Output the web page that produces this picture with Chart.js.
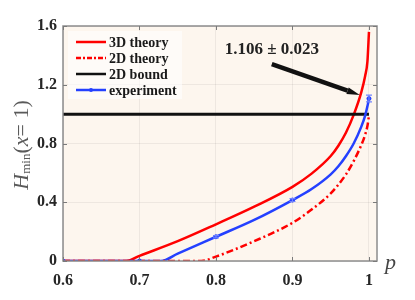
<!DOCTYPE html>
<html>
<head>
<meta charset="utf-8">
<script src="https://cdn.jsdelivr.net/npm/chart.js@4.4.0/dist/chart.umd.min.js"></script>
<style>
  html, body { margin: 0; padding: 0; background: #fff; }
  #wrap { width: 415px; height: 300px; }
</style>
</head>
<body>
<div id="wrap"><canvas id="hminChart"></canvas></div>
<script>
// curves
const p3D = [0.6, 0.683, 0.7, 0.75, 0.8, 0.85, 0.9, 0.925, 0.95, 0.96, 0.97, 0.98, 0.99, 0.995, 0.998, 1.0];
const h3D = [0, 0, 0.035, 0.135, 0.25, 0.37, 0.505, 0.595, 0.715, 0.785, 0.875, 0.995, 1.15, 1.26, 1.36, 1.56];

const p2D = [0.6, 0.781, 0.8, 0.85, 0.9, 0.925, 0.95, 0.96, 0.97, 0.98, 0.99, 0.995, 0.998, 1.0];
const h2D = [0, 0, 0.03, 0.135, 0.26, 0.35, 0.46, 0.52, 0.59, 0.68, 0.79, 0.86, 0.92, 0.99];

const pBound = [0.6, 1.0];
const hBound = [1, 1];

const pFit = [0.6, 0.728, 0.75, 0.8, 0.85, 0.9, 0.925, 0.95, 0.96, 0.97, 0.98, 0.99, 0.995, 1.0];
const hFit = [0, 0, 0.05, 0.165, 0.28, 0.415, 0.49, 0.59, 0.645, 0.715, 0.8, 0.915, 0.99, 1.1];

const pExp = [0.6, 0.7, 0.8, 0.9, 1.0];
const hExp = [0, 0, 0.165, 0.415, 1.106];
const errExp = [0, 0, 0.008, 0.01, 0.023];

const xTicks = [0.6, 0.7, 0.8, 0.9, 1];
const yTicks = [0, 0.4, 0.8, 1.2, 1.6];

const legendLabels = ['3D theory', '2D theory', '2D bound', 'experiment'];

// annotation (data space)
const annText = '1.106 \u00b1 0.023';
const annTextAt = [0.873, 1.436];
const arrowFrom = [0.873, 1.34];
const arrowTo = [0.988, 1.13];

const RED = '#ff0000';
const BLUE = '#2440ff';
const serif = "'Liberation Serif', 'Times New Roman', serif";

function pts(xs, ys) {
    return xs.map((x, i) => ({ x: x, y: ys[i] }));
}

const datasets = [
    {
        label: legendLabels[0],
        data: pts(p3D, h3D),
        borderColor: RED, borderWidth: 2.5, pointRadius: 0,
        cubicInterpolationMode: 'monotone', order: 4
    },
    {
        label: legendLabels[1],
        data: pts(p2D, h2D),
        borderColor: RED, borderWidth: 2.5, borderDash: [7, 3, 2, 3], pointRadius: 0,
        cubicInterpolationMode: 'monotone', order: 1
    },
    {
        label: legendLabels[2],
        data: pts(pBound, hBound),
        borderColor: '#111', borderWidth: 3, pointRadius: 0, order: 3
    },
    {
        label: legendLabels[3],
        data: pts(pFit, hFit),
        borderColor: BLUE, borderWidth: 2.5, pointRadius: 0,
        cubicInterpolationMode: 'monotone', order: 2
    },
    {
        label: 'exp points',
        data: pts(pExp, hExp),
        showLine: false,
        borderColor: BLUE, backgroundColor: BLUE,
        pointRadius: 2, pointStyle: 'circle', order: 0
    }
];

// background, frame, inward ticks, error bars, annotation, legend, axis titles
const decor = {
    id: 'decor',
    beforeDraw(chart) {
        const c = chart.ctx, a = chart.chartArea;
        c.save();
        c.fillStyle = '#fff';
        c.fillRect(0, 0, chart.width, chart.height);
        c.fillStyle = '#fdf6ee';
        c.fillRect(a.left, a.top, a.right - a.left, a.bottom - a.top);
        c.restore();
    },
    afterDatasetsDraw(chart) {
        const c = chart.ctx, a = chart.chartArea;
        const xs = chart.scales.x, ys = chart.scales.y;
        c.save();

        // error bars
        c.strokeStyle = '#6f82ff';
        c.lineWidth = 1.2;
        pExp.forEach((p, i) => {
            if (!errExp[i]) return;
            const x = xs.getPixelForValue(p);
            const y1 = ys.getPixelForValue(hExp[i] - errExp[i]);
            const y2 = ys.getPixelForValue(hExp[i] + errExp[i]);
            c.beginPath();
            c.moveTo(x, y1); c.lineTo(x, y2);
            c.moveTo(x - 3, y1); c.lineTo(x + 3, y1);
            c.moveTo(x - 3, y2); c.lineTo(x + 3, y2);
            c.stroke();
        });

        // frame
        c.strokeStyle = '#8c8c8c';
        c.lineWidth = 1.5;
        c.strokeRect(a.left, a.top, a.right - a.left, a.bottom - a.top);

        // inward tick marks
        c.lineWidth = 1;
        c.strokeStyle = '#7a7a7a';
        c.beginPath();
        xTicks.forEach(v => {
            const x = Math.round(xs.getPixelForValue(v)) + 0.5;
            c.moveTo(x, a.bottom); c.lineTo(x, a.bottom - 4);
            c.moveTo(x, a.top); c.lineTo(x, a.top + 4);
        });
        yTicks.forEach(v => {
            const y = Math.round(ys.getPixelForValue(v)) + 0.5;
            c.moveTo(a.left, y); c.lineTo(a.left + 4, y);
            c.moveTo(a.right, y); c.lineTo(a.right - 4, y);
        });
        c.stroke();

        // annotation arrow
        const fx = xs.getPixelForValue(arrowFrom[0]), fy = ys.getPixelForValue(arrowFrom[1]);
        const tx = xs.getPixelForValue(arrowTo[0]), ty = ys.getPixelForValue(arrowTo[1]);
        const ang = Math.atan2(ty - fy, tx - fx);
        const headLen = 13, headW = 3.5;
        const bx = tx - headLen * Math.cos(ang), by = ty - headLen * Math.sin(ang);
        c.strokeStyle = '#111';
        c.lineWidth = 4.5;
        c.beginPath();
        c.moveTo(fx, fy); c.lineTo(bx, by);
        c.stroke();
        c.fillStyle = '#111';
        c.beginPath();
        c.moveTo(tx, ty);
        c.lineTo(bx + headW * Math.sin(ang), by - headW * Math.cos(ang));
        c.lineTo(bx - headW * Math.sin(ang), by + headW * Math.cos(ang));
        c.closePath();
        c.fill();

        c.font = 'bold 17px ' + serif;
        c.fillStyle = '#222';
        c.textAlign = 'center';
        c.textBaseline = 'middle';
        c.fillText(annText, xs.getPixelForValue(annTextAt[0]), ys.getPixelForValue(annTextAt[1]));

        // legend (inside, top left)
        c.fillStyle = 'rgba(255,255,255,0.6)';
        c.fillRect(a.left + 5, a.top + 5, 114, 68);
        const rowY = [42, 58, 74, 90];
        const styles = [
            { color: RED, dash: [] },
            { color: RED, dash: [5, 2, 2, 2] },
            { color: '#111', dash: [] },
            { color: BLUE, dash: [] }
        ];
        c.font = 'bold 14px ' + serif;
        c.textAlign = 'left';
        legendLabels.forEach((lab, i) => {
            const y = rowY[i];
            c.strokeStyle = styles[i].color;
            c.lineWidth = 2.5;
            c.setLineDash(styles[i].dash);
            c.beginPath();
            c.moveTo(a.left + 13, y); c.lineTo(a.left + 43, y);
            c.stroke();
            c.setLineDash([]);
            if (i === 3) {
                c.fillStyle = BLUE;
                c.beginPath();
                c.arc(a.left + 28, y, 2, 0, Math.PI * 2);
                c.fill();
            }
            c.fillStyle = '#1a1a1a';
            c.fillText(lab, a.left + 46, y + 1);
        });

        // x title
        c.font = 'italic 22px ' + serif;
        c.fillStyle = '#444';
        c.textAlign = 'left';
        c.fillText('p', a.right + 8, a.bottom + 2);

        // y title: H_min(x = 1)
        c.translate(22, 145);
        c.rotate(-Math.PI / 2);
        const parts = [
            { t: 'H', f: 'italic 22px ' + serif, dy: 0 },
            { t: 'min', f: '13px ' + serif, dy: 5 },
            { t: '(', f: '22px ' + serif, dy: 0 },
            { t: 'x', f: 'italic 22px ' + serif, dy: 0 },
            { t: '= 1)', f: '22px ' + serif, dy: 0 }
        ];
        let total = 0;
        parts.forEach(p => { c.font = p.f; p.w = c.measureText(p.t).width; total += p.w; });
        let cx = -total / 2;
        c.fillStyle = '#5a5a5a';
        c.textBaseline = 'middle';
        parts.forEach(p => {
            c.font = p.f;
            c.fillText(p.t, cx, p.dy);
            cx += p.w;
        });
        c.restore();
    }
};

const ctx = document.getElementById('hminChart').getContext('2d');
const hminChart = new Chart(ctx, {
    type: 'line',
    data: { datasets: datasets },
    options: {
        responsive: true,
        maintainAspectRatio: false,
        animation: false,
        layout: { padding: { top: 26, right: 38, left: 0, bottom: 0 } },
        plugins: { legend: { display: false }, tooltip: { enabled: false } },
        scales: {
            x: {
                type: 'linear',
                min: 0.6,
                max: 1.0105,
                afterBuildTicks: s => { s.ticks = xTicks.map(v => ({ value: v })); },
                afterFit: s => { s.height = 39; },
                grid: { color: 'rgba(0,0,0,0.06)', drawTicks: false },
                border: { display: false },
                ticks: {
                    padding: 10,
                    color: '#262626',
                    font: { family: serif, size: 16, weight: 'bold' },
                    callback: v => (v === 1 ? '1' : v.toFixed(1))
                }
            },
            y: {
                min: 0,
                max: 1.6,
                afterBuildTicks: s => { s.ticks = yTicks.map(v => ({ value: v })); },
                afterFit: s => { s.width = 63; },
                grid: { color: 'rgba(0,0,0,0.06)', drawTicks: false },
                border: { display: false },
                ticks: {
                    padding: 6,
                    color: '#262626',
                    font: { family: serif, size: 16, weight: 'bold' },
                    callback: v => (v === 0 ? '0' : v.toFixed(1))
                }
            }
        }
    },
    plugins: [decor]
});
</script>
</body>
</html>
